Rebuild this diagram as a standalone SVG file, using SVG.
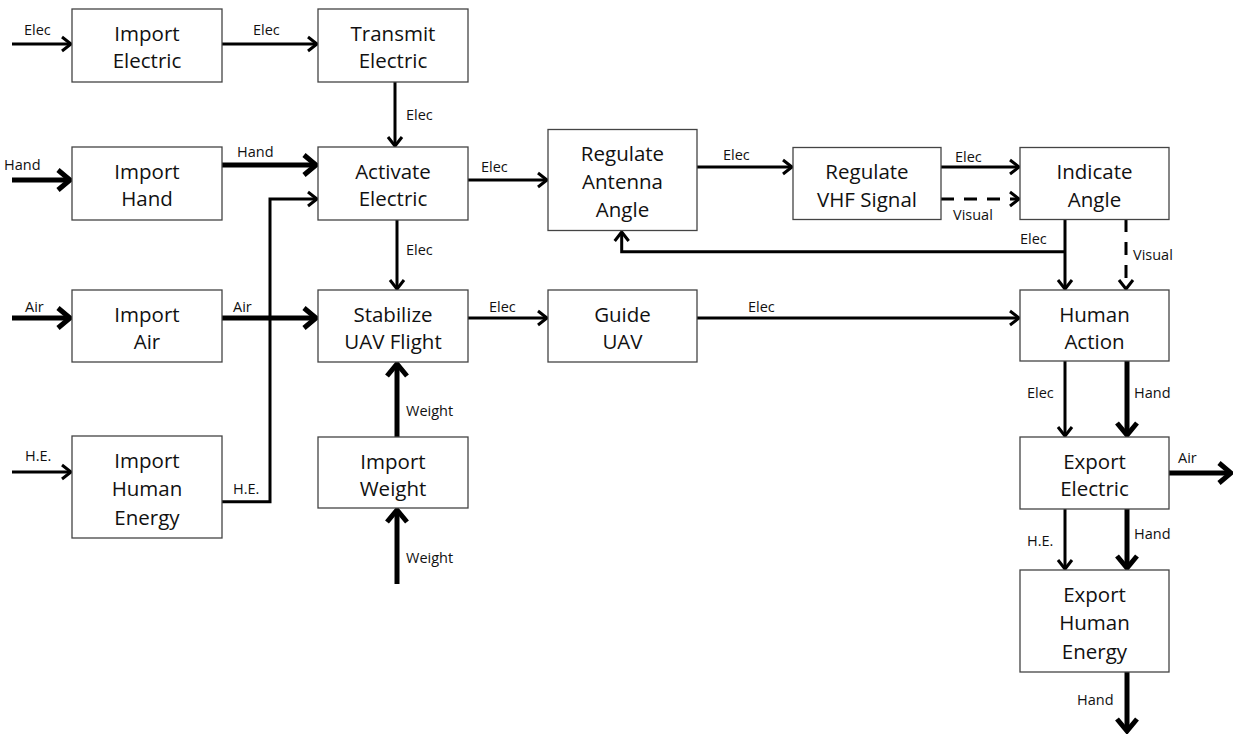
<svg xmlns="http://www.w3.org/2000/svg" width="1233" height="734" viewBox="0 0 1233 734">
<style>
.box{fill:#fff;stroke:#444;stroke-width:1.3}
.nt{font-family:"Open Sans","Liberation Sans",sans-serif;font-size:20.5px;fill:#111;text-anchor:middle}
.lb{font-family:"Open Sans","Liberation Sans",sans-serif;font-size:14.5px;fill:#111}
.c{fill:none;stroke:#000;stroke-width:3}
.k{fill:none;stroke:#000;stroke-width:5}
.d{stroke-dasharray:13 10}
.t{marker-end:url(#mt)}
.h{marker-end:url(#mk)}
</style>
<defs>
<marker id="mt" markerUnits="userSpaceOnUse" markerWidth="20" markerHeight="20" refX="14" refY="10" orient="auto" overflow="visible">
<path d="M5,3 L14,10 L5,17" fill="none" stroke="#000" stroke-width="3"/>
</marker>
<marker id="mk" markerUnits="userSpaceOnUse" markerWidth="26" markerHeight="26" refX="19" refY="13" orient="auto" overflow="visible">
<path d="M7,3 L19,13 L7,23" fill="none" stroke="#000" stroke-width="5"/>
</marker>
</defs>
<rect width="1233" height="734" fill="#fff"/>
<g id="connectors">
<path class="c t" d="M12,44 H71"/>
<path class="c t" d="M222,44 H317"/>
<path class="c t" d="M395,82 V146"/>
<path class="k h" d="M12,180 H70"/>
<path class="k h" d="M222,165 H316"/>
<path class="c t" d="M12,472 H71"/>
<path class="c t" d="M222,501.7 H270 V199 H317"/>
<path class="c t" d="M397,220 V289"/>
<path class="k h" d="M12,318 H70"/>
<path class="k h" d="M222,318 H316"/>
<path class="k h" d="M397,437 V364"/>
<path class="k h" d="M397,584 V510"/>
<path class="c t" d="M468,180 H547"/>
<path class="c t" d="M468,318 H547"/>
<path class="c t" d="M697,167 H792"/>
<path class="c t" d="M697,318 H1019"/>
<path class="c t" d="M941,167 H1019"/>
<path class="c d t" d="M941,199 H1019"/>
<path class="c t" d="M1065,219 V289"/>
<path class="c t" d="M1065,251.7 H621.7 V232"/>
<path class="c d t" d="M1126,219 V289"/>
<path class="c t" d="M1065,361 V436"/>
<path class="k h" d="M1127,361 V435"/>
<path class="k h" d="M1169,473 H1231"/>
<path class="c t" d="M1065,509 V569"/>
<path class="k h" d="M1127,509 V568"/>
<path class="k h" d="M1127,672 V731"/>
</g>
<g id="conn-labels">
<text class="lb" x="24" y="35">Elec</text>
<text class="lb" x="253" y="35">Elec</text>
<text class="lb" x="406" y="120">Elec</text>
<text class="lb" x="4" y="170">Hand</text>
<text class="lb" x="237" y="157">Hand</text>
<text class="lb" x="406" y="255">Elec</text>
<text class="lb" x="25" y="312">Air</text>
<text class="lb" x="233" y="312">Air</text>
<text class="lb" x="25" y="461">H.E.</text>
<text class="lb" x="233" y="494">H.E.</text>
<text class="lb" x="406" y="416">Weight</text>
<text class="lb" x="406" y="563">Weight</text>
<text class="lb" x="481" y="172">Elec</text>
<text class="lb" x="489" y="312">Elec</text>
<text class="lb" x="723" y="160">Elec</text>
<text class="lb" x="748" y="312">Elec</text>
<text class="lb" x="955" y="162">Elec</text>
<text class="lb" x="953" y="220">Visual</text>
<text class="lb" x="1020" y="244">Elec</text>
<text class="lb" x="1133" y="260">Visual</text>
<text class="lb" x="1027" y="398">Elec</text>
<text class="lb" x="1134" y="398">Hand</text>
<text class="lb" x="1178" y="463">Air</text>
<text class="lb" x="1027" y="546">H.E.</text>
<text class="lb" x="1134" y="539">Hand</text>
<text class="lb" x="1077" y="705">Hand</text>
</g>
<g id="import-electric"><rect class="box" x="72" y="9" width="150" height="73"/><text class="nt" x="147" y="40.5">Import</text><text class="nt" x="147" y="68">Electric</text></g>
<g id="transmit-electric"><rect class="box" x="318" y="9" width="150" height="73"/><text class="nt" x="393" y="40.5">Transmit</text><text class="nt" x="393" y="68">Electric</text></g>
<g id="import-hand"><rect class="box" x="72" y="147" width="150" height="73"/><text class="nt" x="147" y="178.5">Import</text><text class="nt" x="147" y="206">Hand</text></g>
<g id="activate-electric"><rect class="box" x="318" y="147" width="150" height="73"/><text class="nt" x="393" y="178.5">Activate</text><text class="nt" x="393" y="206">Electric</text></g>
<g id="import-air"><rect class="box" x="72" y="290" width="150" height="72"/><text class="nt" x="147" y="321.5">Import</text><text class="nt" x="147" y="349">Air</text></g>
<g id="stabilize-uav-flight"><rect class="box" x="318" y="290" width="150" height="72"/><text class="nt" x="393" y="321.5">Stabilize</text><text class="nt" x="393" y="349">UAV Flight</text></g>
<g id="import-human-energy"><rect class="box" x="72" y="436" width="150" height="102"/><text class="nt" x="147" y="468">Import</text><text class="nt" x="147" y="496">Human</text><text class="nt" x="147" y="525">Energy</text></g>
<g id="import-weight"><rect class="box" x="318" y="437" width="150" height="71"/><text class="nt" x="393" y="468.5">Import</text><text class="nt" x="393" y="496">Weight</text></g>
<g id="regulate-antenna-angle"><rect class="box" x="548" y="129.5" width="149" height="101"/><text class="nt" x="622.5" y="161">Regulate</text><text class="nt" x="622.5" y="188.5">Antenna</text><text class="nt" x="622.5" y="216.5">Angle</text></g>
<g id="guide-uav"><rect class="box" x="548" y="290" width="149" height="72"/><text class="nt" x="622.5" y="321.5">Guide</text><text class="nt" x="622.5" y="349">UAV</text></g>
<g id="regulate-vhf-signal"><rect class="box" x="793" y="147.5" width="148" height="72"/><text class="nt" x="867" y="179">Regulate</text><text class="nt" x="867" y="206.5">VHF Signal</text></g>
<g id="indicate-angle"><rect class="box" x="1020" y="147.5" width="149" height="72"/><text class="nt" x="1094.5" y="179">Indicate</text><text class="nt" x="1094.5" y="206.5">Angle</text></g>
<g id="human-action"><rect class="box" x="1020" y="290" width="149" height="71"/><text class="nt" x="1094.5" y="321.5">Human</text><text class="nt" x="1094.5" y="349">Action</text></g>
<g id="export-electric"><rect class="box" x="1020" y="437" width="149" height="72"/><text class="nt" x="1094.5" y="468.5">Export</text><text class="nt" x="1094.5" y="496">Electric</text></g>
<g id="export-human-energy"><rect class="box" x="1020" y="570" width="149" height="102"/><text class="nt" x="1094.5" y="601.5">Export</text><text class="nt" x="1094.5" y="629.5">Human</text><text class="nt" x="1094.5" y="659">Energy</text></g>
</svg>
